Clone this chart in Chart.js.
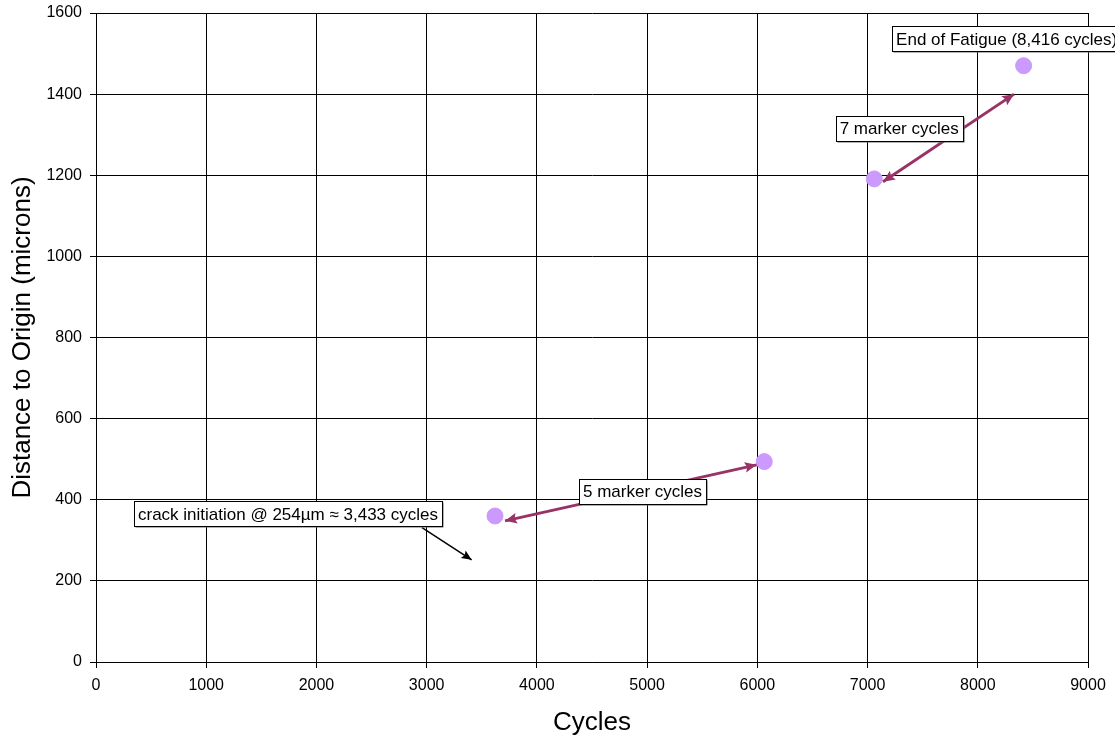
<!DOCTYPE html>
<html>
<head>
<meta charset="utf-8">
<script src="https://cdn.jsdelivr.net/npm/chart.js@4"></script>
<style>
  html, body { margin: 0; padding: 0; background: #fff; }
  #wrap { width: 1115px; height: 742px; }
</style>
</head>
<body>
<div id="wrap"><canvas id="graf-crack" width="1115" height="742"></canvas></div>
<script>
// marker band measurements
const cycles = [3620, 6063, 7061, 8416];
const distance = [360, 494, 1191, 1470];

const xTicks = [0, 1000, 2000, 3000, 4000, 5000, 6000, 7000, 8000, 9000];
const yTicks = [0, 200, 400, 600, 800, 1000, 1200, 1400, 1600];

// callouts, in data units
const labels = [
    { text: "crack initiation @ 254\u00b5m \u2248 3,433 cycles", x: 1742, y: 365 },
    { text: "5 marker cycles", x: 4958, y: 421 },
    { text: "7 marker cycles", x: 7287, y: 1316 },
    { text: "End of Fatigue (8,416 cycles)", x: 8262, y: 1536 }
];

const arrows = [
    { from: [2958, 331], to: [3408, 252], color: "#000000", width: 1.5, both: false, head: 11 },
    { from: [3711, 348], to: [5994, 486], color: "#993366", width: 3, both: true, head: 13 },
    { from: [7140, 1184], to: [8329, 1400], color: "#993366", width: 3, both: true, head: 13 }
];

const FONT = "'Liberation Sans', Arial, sans-serif";

function drawHead(ctx, x1, y1, x2, y2, size) {
    const a = Math.atan2(y2 - y1, x2 - x1);
    ctx.beginPath();
    ctx.moveTo(x2, y2);
    ctx.lineTo(x2 - size * Math.cos(a - 0.42), y2 - size * Math.sin(a - 0.42));
    ctx.lineTo(x2 - size * 0.75 * Math.cos(a), y2 - size * 0.75 * Math.sin(a));
    ctx.lineTo(x2 - size * Math.cos(a + 0.42), y2 - size * Math.sin(a + 0.42));
    ctx.closePath();
    ctx.fill();
}

const callouts = {
    id: "callouts",
    afterDatasetsDraw(chart) {
        const ctx = chart.ctx;
        const xs = chart.scales.x, ys = chart.scales.y;
        ctx.save();

        arrows.forEach(a => {
            const x1 = xs.getPixelForValue(a.from[0]), y1 = ys.getPixelForValue(a.from[1]);
            const x2 = xs.getPixelForValue(a.to[0]), y2 = ys.getPixelForValue(a.to[1]);
            ctx.strokeStyle = a.color;
            ctx.fillStyle = a.color;
            ctx.lineWidth = a.width;
            ctx.beginPath();
            ctx.moveTo(x1, y1);
            ctx.lineTo(x2, y2);
            ctx.stroke();
            drawHead(ctx, x1, y1, x2, y2, a.head);
            if (a.both) drawHead(ctx, x2, y2, x1, y1, a.head);
        });

        ctx.font = "17px " + FONT;
        ctx.textBaseline = "middle";
        ctx.textAlign = "center";
        labels.forEach(l => {
            const cx = xs.getPixelForValue(l.x), cy = ys.getPixelForValue(l.y);
            const w = ctx.measureText(l.text).width + 8;
            const h = 25;
            const left = Math.round(cx - w / 2) + 0.5, top = Math.round(cy - h / 2) + 0.5;
            // thin drop shadow
            ctx.fillStyle = "#666";
            ctx.fillRect(left + 1, top + 1, w, h);
            ctx.fillStyle = "#fff";
            ctx.fillRect(left, top, w, h);
            ctx.strokeStyle = "#000";
            ctx.lineWidth = 1;
            ctx.strokeRect(left, top, w, h);
            ctx.fillStyle = "#000";
            ctx.fillText(l.text, cx, cy + 1);
        });
        ctx.restore();
    }
};

new Chart(document.getElementById("graf-crack"), {
    type: "scatter",
    data: {
        datasets: [{
            label: "Distance to Origin",
            data: cycles.map((c, i) => ({ x: c, y: distance[i] })),
            backgroundColor: "#cc99ff",
            borderColor: "#cc99ff",
            pointRadius: 8,
            pointHoverRadius: 8
        }]
    },
    options: {
        responsive: false,
        animation: false,
        devicePixelRatio: 1,
        layout: { padding: { left: 0, top: 13, right: 27, bottom: 0 } },
        plugins: {
            legend: { display: false },
            tooltip: { enabled: false }
        },
        scales: {
            x: {
                type: "linear",
                min: 0,
                max: 9000,
                afterBuildTicks: s => { s.ticks = xTicks.map(v => ({ value: v })); },
                afterFit: s => {
                    s.height = 80;
                    s.paddingLeft = 0;
                    s.paddingRight = 0;
                },
                ticks: {
                    color: "#000",
                    font: { family: FONT, size: 16 },
                    padding: 8,
                    maxRotation: 0,
                    callback: v => String(v)
                },
                grid: { color: "#000", lineWidth: 1, tickLength: 6 },
                border: { color: "#000", width: 1 },
                title: {
                    display: true,
                    text: "Cycles",
                    color: "#000",
                    font: { family: FONT, size: 26 },
                    padding: { top: 0, bottom: 4 }
                }
            },
            y: {
                type: "linear",
                min: 0,
                max: 1600,
                afterBuildTicks: s => { s.ticks = yTicks.map(v => ({ value: v })); },
                afterFit: s => {
                    s.width = 96;
                    s.paddingTop = 0;
                    s.paddingBottom = 0;
                },
                ticks: {
                    color: "#000",
                    font: { family: FONT, size: 16 },
                    padding: 8,
                    callback: v => String(v)
                },
                grid: { color: "#000", lineWidth: 1, tickLength: 6 },
                border: { color: "#000", width: 1 },
                title: {
                    display: true,
                    text: "Distance to Origin (microns)",
                    color: "#000",
                    font: { family: FONT, size: 26 },
                    padding: { top: 7, bottom: 0 }
                }
            }
        }
    },
    plugins: [callouts]
});
</script>
</body>
</html>
